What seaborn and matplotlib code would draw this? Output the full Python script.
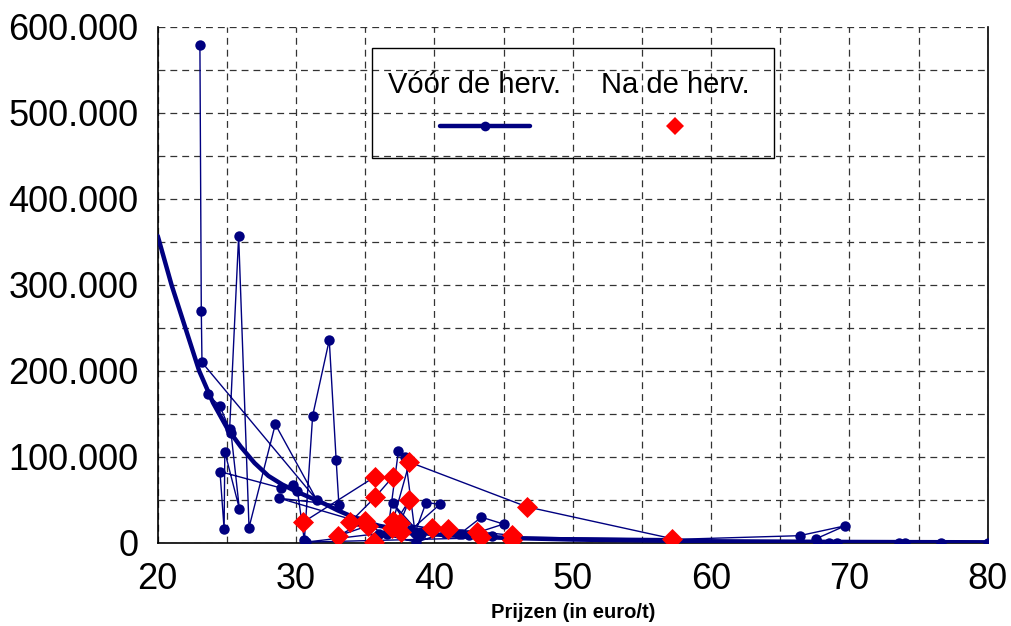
import pandas as pd
import seaborn as sns
import matplotlib.pyplot as plt
from matplotlib.lines import Line2D
from matplotlib.patches import Rectangle
from matplotlib.ticker import FuncFormatter, MultipleLocator

# --- data (prices in euro/t, volumes in t) ---
before_price = [23.05, 23.15, 23.2, 31.5, 28.5, 26.6, 25.85, 25.2, 23.6, 24.5, 25.3, 25.9,
                24.85, 24.8, 24.5, 28.9, 29.8, 30.1, 30.6, 31.2, 32.4, 32.9, 33.1, 28.8,
                34.5, 36.6, 37.4, 37.9, 38.6, 39.4, 40.4, 38.3, 37.0, 39.0, 41.8, 43.4,
                45.0, 42.5, 44.2, 46.0, 30.7, 36.0, 38.7, 40.8, 42.0, 45.8, 57.0, 66.4,
                69.7, 67.6, 67.7, 68.5, 69.1, 73.6, 74.0, 76.6, 80.0]
before_volume = [579000, 270000, 210000, 50000, 138000, 18000, 357000, 133000, 173000, 159000,
                 128000, 40000, 106000, 16000, 83000, 64000, 67000, 61000, 3000, 148000,
                 236000, 96000, 44000, 52000, 25000, 10000, 107000, 100000, 12000, 47000,
                 45000, 15000, 46000, 10000, 10000, 30000, 22000, 9000, 8000, 7000,
                 1000, 11000, 1000, 12000, 10000, 6000, 4000, 8500, 20000, 5000,
                 500, 300, 300, 300, 300, 200, 300]

after_price = [30.5, 35.7, 37.0, 35.7, 33.9, 35.0, 33.0, 35.2, 35.6, 37.0, 38.2, 46.7,
               57.2, 43.4, 37.5, 38.2, 36.9, 39.8, 37.6, 41.0, 43.1, 45.6, 45.6]
after_volume = [24000, 77000, 77000, 53000, 24000, 25000, 8000, 20000, 1000, 25000, 94000,
                42000, 5000, 7000, 23000, 50000, 17000, 17000, 13000, 16000, 13000, 9000, 3500]

trend_price = [20, 21, 22, 23, 24, 25, 26, 27, 28, 29, 30, 31, 32, 33, 34, 35, 36, 37, 38,
               40, 42, 45, 50, 55, 60, 70, 80]
trend_volume = [357000, 300000, 250000, 200000, 163000, 134000, 112000, 93000, 78000, 68000,
                60000, 53000, 46000, 38000, 31000, 25000, 20000, 17000, 14000, 10000, 8000,
                6000, 4000, 3000, 2000, 1200, 800]

legend_labels = ['Vóór de herv.', 'Na de herv.']

NAVY = '#000080'
RED = '#ff0000'

sns.set_theme(style="white")
plt.rcParams['font.family'] = ['Liberation Sans', 'DejaVu Sans']
plt.rcParams['text.color'] = 'black'
plt.rcParams['axes.labelcolor'] = 'black'
plt.rcParams['xtick.color'] = 'black'
plt.rcParams['ytick.color'] = 'black'

before = pd.DataFrame({'price': before_price, 'volume': before_volume})
after = pd.DataFrame({'price': after_price, 'volume': after_volume})
trend = pd.DataFrame({'price': trend_price, 'volume': trend_volume})

fig = plt.figure(figsize=(10.11, 6.26), dpi=100)
ax = fig.add_axes([0.156, 0.1326, 0.821, 0.8244])

# thin connecting lines + markers
sns.lineplot(data=before, x='price', y='volume', sort=False, estimator=None, ax=ax,
             color=NAVY, linewidth=1, marker='o', markersize=7.5, markeredgewidth=0,
             zorder=3)
sns.lineplot(data=after, x='price', y='volume', sort=False, estimator=None, ax=ax,
             color=NAVY, linewidth=1, zorder=3)
sns.scatterplot(data=after, x='price', y='volume', ax=ax, color=RED, marker='D',
                s=115, linewidth=0, zorder=5)
# thick trend curve
sns.lineplot(data=trend, x='price', y='volume', ax=ax, color=NAVY, linewidth=3.2,
             zorder=4)

ax.set_xlim(20, 80)
ax.set_ylim(0, 600000)
ax.xaxis.set_major_locator(MultipleLocator(10))
ax.xaxis.set_minor_locator(MultipleLocator(5))
ax.yaxis.set_major_locator(MultipleLocator(100000))
ax.yaxis.set_minor_locator(MultipleLocator(50000))
ax.yaxis.set_major_formatter(FuncFormatter(lambda v, p: format(int(v), ',').replace(',', '.')))

ax.grid(True, which='both', color='#333333', linestyle=(0, (5.5, 4)), linewidth=0.9)
ax.set_axisbelow(True)
for side in ['left', 'bottom', 'right']:
    ax.spines[side].set_color('black')
    ax.spines[side].set_linewidth(1.2)
ax.spines['top'].set_visible(False)

ax.tick_params(axis='both', which='both', direction='in', length=6, color='black')
ax.tick_params(axis='x', labelsize=26, pad=14)
ax.tick_params(axis='y', labelsize=26, pad=14)

ax.set_xlabel('Prijzen (in euro/t)', fontsize=14.5, fontweight='bold', labelpad=4)
ax.set_ylabel('')

# legend drawn by hand: labels above handles, transparent box
ax.add_patch(Rectangle((0.258, 0.746), 0.485, 0.213, transform=ax.transAxes,
                       fill=False, edgecolor='black', linewidth=1, zorder=6))
ax.text(0.382, 0.888, legend_labels[0], transform=ax.transAxes, fontsize=21,
        ha='center', va='center', zorder=6)
ax.text(0.623, 0.888, legend_labels[1], transform=ax.transAxes, fontsize=21,
        ha='center', va='center', zorder=6)
ax.add_line(Line2D([0.340, 0.448], [0.808, 0.808], transform=ax.transAxes, color=NAVY,
                   linewidth=3.2, zorder=6))
ax.add_line(Line2D([0.394], [0.808], transform=ax.transAxes, color=NAVY, marker='o',
                   markersize=7, markeredgewidth=0, zorder=7))
ax.add_line(Line2D([0.623], [0.808], transform=ax.transAxes, color=RED, marker='D',
                   markersize=9, markeredgewidth=0, linestyle='none', zorder=7))

fig.savefig('out.png', dpi=100)
